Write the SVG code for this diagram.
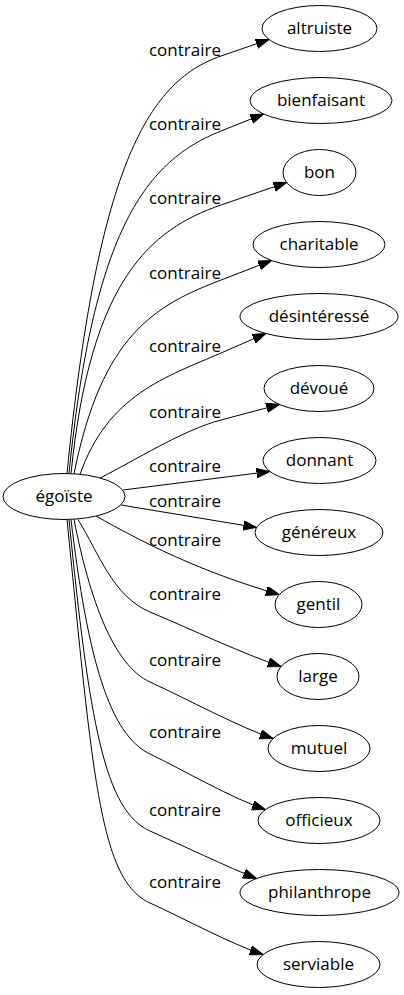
<svg xmlns="http://www.w3.org/2000/svg" width="404" height="995" viewBox="0 0 404 995">
<style>
.n ellipse{fill:#fff;stroke:#000;stroke-width:1}
text{font-family:"Open Sans","DejaVu Sans",sans-serif;font-size:17px;fill:#000;text-anchor:middle}
.e path{fill:none;stroke:#000;stroke-width:1;marker-end:url(#arr)}
</style>
<defs>
<marker id="arr" markerUnits="userSpaceOnUse" markerWidth="14" markerHeight="10" refX="13.3" refY="4.7" orient="auto">
<path d="M0,0 L13.3,4.7 L0,9.4 z" fill="#000" stroke="#000" stroke-width="1"/>
</marker>
</defs>
<g id="edges" class="e">
<path d="M67,473.5 C97,173 145.3,82 221,56 L269,39.5"/>
<path d="M69,473.5 C93.6,227.5 146.8,160.7 221,131 L263.5,114"/>
<path d="M71,473.6 C90.3,280.6 150,229.3 221,205 L286.6,182.5"/>
<path d="M74,473.8 C102,333.8 155.7,305.2 221,280 L271.6,260.5"/>
<path d="M80,474.5 C108,394.5 166,377 221,353 L265.8,333.5"/>
<path d="M100,478 C135.8,460.1 182.3,430.2 221,420 L279.5,404.5"/>
<path d="M123,490 L269.9,471.5"/>
<path d="M121,505 L256.5,527.5"/>
<path d="M96,516 C140,541 200,572 279.3,594.5"/>
<path d="M78,519.5 C99,553.5 113,596.6 150,612 C191.5,629.3 243,654 281.1,666.5"/>
<path d="M74,519.6 C90,600.6 113.6,665.3 150,682 C186.4,698.7 239.9,727.6 273.1,738.5"/>
<path d="M71,519.6 C87.8,659.6 109.5,734.5 150,754 C184.2,770.5 232.2,798.6 265.4,809.5"/>
<path d="M69,519.5 C89.2,721.5 104.4,810.6 150,831 C182,845.3 228.5,867.4 256.4,878.5"/>
<path d="M67,519.5 C93,779.5 100,880.2 150,903 C184.6,918.7 229.8,943.6 263.1,954.5"/>
</g>
<g id="edge-labels">
<text x="185" y="55.5">contraire</text>
<text x="185" y="129.5">contraire</text>
<text x="185" y="203.5">contraire</text>
<text x="185" y="278.5">contraire</text>
<text x="185" y="351.5">contraire</text>
<text x="185" y="417.5">contraire</text>
<text x="185" y="471.5">contraire</text>
<text x="185" y="506.5">contraire</text>
<text x="185" y="545.5">contraire</text>
<text x="185" y="599.5">contraire</text>
<text x="185" y="665.5">contraire</text>
<text x="185" y="737.5">contraire</text>
<text x="185" y="815.5">contraire</text>
<text x="185" y="887.5">contraire</text>
</g>
<g id="egoiste" class="n"><ellipse cx="64" cy="496.5" rx="61" ry="23"/><text x="64" y="502">égoïste</text></g>
<g id="altruiste" class="n"><ellipse cx="319.5" cy="28.5" rx="57.5" ry="23"/><text x="319.5" y="34">altruiste</text></g>
<g id="bienfaisant" class="n"><ellipse cx="321" cy="100.5" rx="71" ry="23"/><text x="321" y="106">bienfaisant</text></g>
<g id="bon" class="n"><ellipse cx="319.5" cy="172.5" rx="36.5" ry="23"/><text x="319.5" y="178">bon</text></g>
<g id="charitable" class="n"><ellipse cx="319" cy="244.5" rx="66" ry="23"/><text x="319" y="250">charitable</text></g>
<g id="desinteresse" class="n"><ellipse cx="319" cy="316.5" rx="79" ry="23"/><text x="319" y="322">désintéressé</text></g>
<g id="devoue" class="n"><ellipse cx="319" cy="388.5" rx="55" ry="23"/><text x="319" y="394">dévoué</text></g>
<g id="donnant" class="n"><ellipse cx="319.5" cy="460.5" rx="56.5" ry="23"/><text x="319.5" y="466">donnant</text></g>
<g id="genereux" class="n"><ellipse cx="319" cy="532.5" rx="64" ry="23"/><text x="319" y="538">généreux</text></g>
<g id="gentil" class="n"><ellipse cx="318.5" cy="604.5" rx="43.5" ry="23"/><text x="318.5" y="610">gentil</text></g>
<g id="large" class="n"><ellipse cx="318" cy="676.5" rx="41" ry="23"/><text x="318" y="682">large</text></g>
<g id="mutuel" class="n"><ellipse cx="319" cy="748.5" rx="51" ry="23"/><text x="319" y="754">mutuel</text></g>
<g id="officieux" class="n"><ellipse cx="319" cy="820.5" rx="61" ry="23"/><text x="319" y="826">officieux</text></g>
<g id="philanthrope" class="n"><ellipse cx="319.5" cy="892.5" rx="79.5" ry="23"/><text x="319.5" y="898">philanthrope</text></g>
<g id="serviable" class="n"><ellipse cx="318.5" cy="964.5" rx="61.5" ry="23"/><text x="318.5" y="970">serviable</text></g>
</svg>
